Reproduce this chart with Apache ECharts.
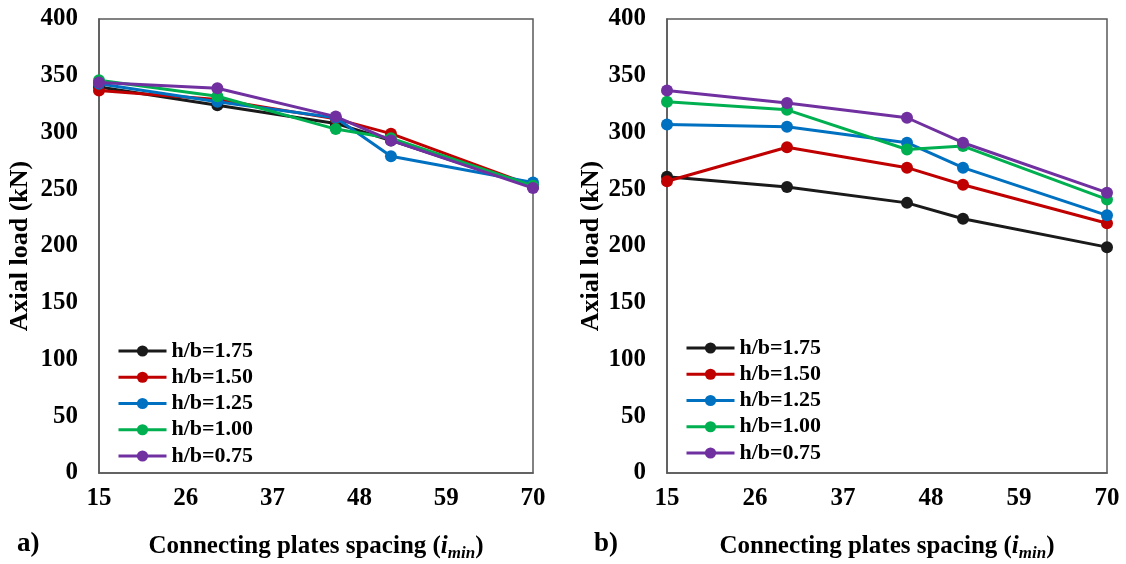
<!DOCTYPE html>
<html>
<head>
<meta charset="utf-8">
<script src="https://cdn.jsdelivr.net/npm/echarts@6/dist/echarts.min.js"></script>
<style>
  html, body { margin: 0; padding: 0; background: #fff; }
  #chart { width: 1126px; height: 564px; }
</style>
</head>
<body>
<div id="chart"></div>
<script>
// Connecting plate spacing (x) and axial load (kN) for each h/b ratio
const spacing = [15, 30, 45, 52, 70];
const seriesNames = ['h/b=1.75', 'h/b=1.50', 'h/b=1.25', 'h/b=1.00', 'h/b=0.75'];
const seriesColors = ['#1a1a1a', '#C00000', '#0070C0', '#00B050', '#7030A0'];

// panel a)
const loadA_175 = [340, 324, 308, 293, 252];
const loadA_150 = [337, 329, 312, 299, 253];
const loadA_125 = [343, 327, 313, 279, 256];
const loadA_100 = [346, 332, 303, 295, 253];
const loadA_075 = [344, 339, 314, 293, 251];

// panel b)
const loadB_175 = [261, 252, 238, 224, 199];
const loadB_150 = [257, 287, 269, 254, 220];
const loadB_125 = [307, 305, 291, 269, 227];
const loadB_100 = [327, 320, 285, 288, 241];
const loadB_075 = [337, 326, 313, 291, 247];

const xTicks = [15, 26, 37, 48, 59, 70];
const yTicks = [0, 50, 100, 150, 200, 250, 300, 350, 400];

const panelA = [loadA_175, loadA_150, loadA_125, loadA_100, loadA_075];
const panelB = [loadB_175, loadB_150, loadB_125, loadB_100, loadB_075];

const FONT = '"Liberation Serif", "Times New Roman", serif';
const frame = '#595959';

function xAxisFor(gridIndex) {
  return {
    type: 'value', gridIndex: gridIndex,
    min: xTicks[0], max: xTicks[xTicks.length - 1], interval: xTicks[1] - xTicks[0],
    axisLine: { show: true, onZero: false, lineStyle: { color: frame, width: 1.5 } },
    axisTick: { show: false },
    splitLine: { show: false },
    axisLabel: { color: '#000', fontFamily: FONT, fontWeight: 'bold', fontSize: 25, margin: 13 },
    name: '{t|Connecting plates spacing (}{i|i}{s|min}{t|)}',
    nameLocation: 'middle', nameGap: 59,
    nameTextStyle: {
      rich: {
        t: { fontFamily: FONT, fontWeight: 'bold', fontSize: 25, color: '#000' },
        i: { fontFamily: FONT, fontWeight: 'bold', fontStyle: 'italic', fontSize: 25, color: '#000' },
        s: { fontFamily: FONT, fontWeight: 'bold', fontStyle: 'italic', fontSize: 17, color: '#000', padding: [13, 0, 0, 0] }
      }
    }
  };
}

function yAxisFor(gridIndex, gap) {
  return {
    type: 'value', gridIndex: gridIndex,
    min: yTicks[0], max: yTicks[yTicks.length - 1], interval: yTicks[1] - yTicks[0],
    axisLine: { show: true, lineStyle: { color: frame, width: 1.5 } },
    axisTick: { show: false },
    splitLine: { show: false },
    axisLabel: { color: '#000', fontFamily: FONT, fontWeight: 'bold', fontSize: 25, margin: 21 },
    name: 'Axial load (kN)',
    nameLocation: 'middle', nameGap: gap,
    nameTextStyle: { color: '#000', fontFamily: FONT, fontWeight: 'bold', fontSize: 26 }
  };
}

function buildSeries(panel, idx) {
  return panel.map((vals, k) => ({
    name: seriesNames[k],
    type: 'line',
    xAxisIndex: idx, yAxisIndex: idx,
    data: spacing.map((x, j) => [x, vals[j]]),
    symbol: 'circle', symbolSize: 12,
    lineStyle: { color: seriesColors[k], width: 3 },
    itemStyle: { color: seriesColors[k] },
    z: 2 + k
  }));
}

function legendAt(left, top) {
  return {
    left: left, top: top, orient: 'vertical', padding: 0,
    itemWidth: 48, itemHeight: 14, itemGap: 4.25,
    lineStyle: { width: 3 },
    data: seriesNames,
    textStyle: { color: '#000', fontFamily: FONT, fontWeight: 'bold', fontSize: 22 }
  };
}

// fixed plot rectangles; the grids are not shrunk to fit their labels
function gridAt(left, right) {
  return {
    left: left, right: right, top: 19, bottom: 91,
    outerBoundsMode: 'none', containLabel: false,
    show: true, borderColor: frame, borderWidth: 1.5, backgroundColor: 'transparent'
  };
}

const chart = echarts.init(document.getElementById('chart'), null, { renderer: 'canvas' });
chart.setOption({
  backgroundColor: '#fff',
  animation: false,
  grid: [gridAt(99, 593), gridAt(667, 19)],
  xAxis: [xAxisFor(0), xAxisFor(1)],
  yAxis: [yAxisFor(0, 66), yAxisFor(1, 59)],
  legend: [legendAt(117, 340), legendAt(685, 337)],
  graphic: [
    { type: 'text', left: 17, top: 531, style: { text: 'a)', fill: '#000', font: 'bold 27px ' + FONT } },
    { type: 'text', left: 594, top: 531, style: { text: 'b)', fill: '#000', font: 'bold 27px ' + FONT } }
  ],
  series: buildSeries(panelA, 0).concat(buildSeries(panelB, 1))
});
</script>
</body>
</html>
